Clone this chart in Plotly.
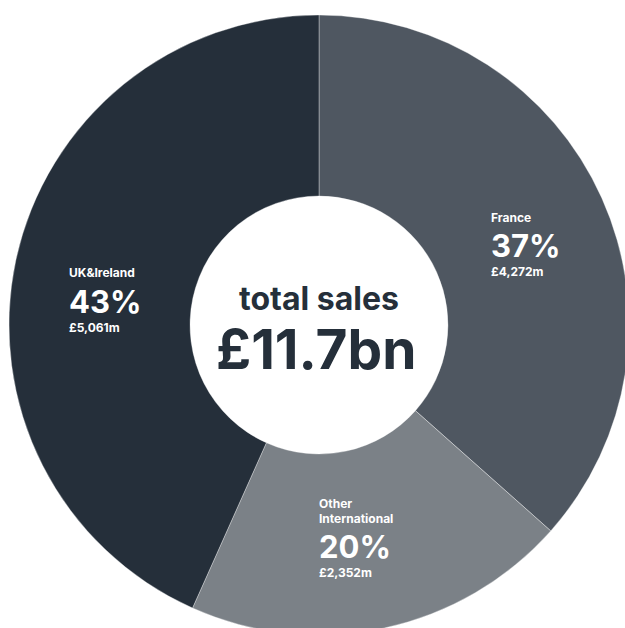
import plotly.graph_objects as go

# ---- data ----
regions = ["France", "Other International", "UK&Ireland"]
region_lines = [["France"], ["Other", "International"], ["UK&Ireland"]]
sales_m = [4272, 2352, 5061]
colors = ["#4f5761", "#7b8187", "#252f3a"]
center_title = "total sales"

total_m = sum(sales_m)
pcts = [round(v / total_m * 100) for v in sales_m]

# ---- layout geometry (pixels of figure) ----
W, H = 640, 650
cx, cy, R = 319, 325, 310
hole_frac = 0.416

# label anchors: left x, and y of first line
label_x = [489, 317, 67]
label_top_line_y = [217, 503, 273]

fig = go.Figure()
fig.add_trace(go.Pie(
    labels=regions,
    values=sales_m,
    sort=False,
    direction="clockwise",
    rotation=0,
    hole=hole_frac,
    marker=dict(colors=colors, line=dict(color="rgba(255,255,255,0.35)", width=1)),
    textinfo="none",
    hoverinfo="skip",
    showlegend=False,
    domain=dict(x=[(cx - R) / W, (cx + R) / W], y=[1 - (cy + R) / H, 1 - (cy - R) / H]),
))

FONT = "Inter"
ann = []
def add(text, x, y, size, color="white", weight=700, xanchor="left"):
    ann.append(dict(text=text, x=x / W, y=1 - y / H, xref="paper", yref="paper",
                    xanchor=xanchor, yanchor="middle", showarrow=False,
                    font=dict(family=FONT, size=size, color=color, weight=weight)))

for i in range(len(regions)):
    x = label_x[i]
    y = label_top_line_y[i]
    for line in region_lines[i]:
        add(line, x, y, 12)
        y += 15
    y += 13
    add(f"{pcts[i]}%", x, y, 31)
    y += 26
    add(f"£{sales_m[i]:,}m", x, y, 12)

add(center_title, 319, 298, 32, color="#252f3a", weight=700, xanchor="center")
add(f"£{total_m / 1000:.1f}bn", 316, 349, 55, color="#252f3a", weight=700, xanchor="center")

fig.update_layout(
    width=W, height=H,
    margin=dict(l=0, r=0, t=0, b=0),
    paper_bgcolor="white", plot_bgcolor="white",
    annotations=ann,
)

fig.write_html(
    "out.html",
    config={"displayModeBar": False},
    post_script="document.body.style.margin='0';document.body.style.overflow='hidden';document.documentElement.style.overflow='hidden';",
)
